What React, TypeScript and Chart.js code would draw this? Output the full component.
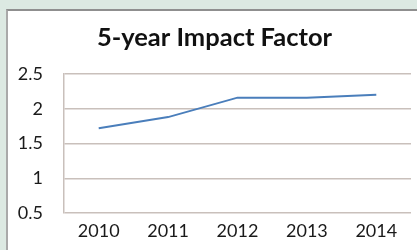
import React, { useEffect, useRef } from "react";
import { Chart, registerables } from "chart.js";

Chart.register(...registerables);

const years: string[] = ["2010", "2011", "2012", "2013", "2014"];
const impactFactor: number[] = [1.72, 1.88, 2.16, 2.16, 2.2];
const yTicks: number[] = [0.5, 1, 1.5, 2, 2.5];
const titleText = "5-year Impact Factor";

export default function App() {
  const ref = useRef<HTMLCanvasElement | null>(null);

  useEffect(() => {
    document.body.style.margin = "0";
    const ctx = ref.current;
    if (!ctx) return;
    const chart = new Chart(ctx, {
      type: "line",
      data: {
        labels: years,
        datasets: [
          {
            data: impactFactor,
            borderColor: "#4a7ebb",
            borderWidth: 2,
            pointRadius: 0,
            tension: 0,
            fill: false,
          },
        ],
      },
      options: {
        animation: false,
        responsive: false,
        maintainAspectRatio: false,
        layout: { padding: { left: 12, right: 0, top: 0, bottom: 0 } },
        plugins: {
          legend: { display: false },
          tooltip: { enabled: false },
          title: {
            display: true,
            text: titleText,
            color: "#111",
            font: { family: "Lato", size: 25.5, weight: "bold", lineHeight: 1.2 },
            padding: { top: 22.7, bottom: 20.7 },
          },
        },
        scales: {
          x: {
            type: "category",
            offset: true,
            grid: { display: false, drawTicks: false },
            border: { display: false },
            afterFit: (axis: any) => {
              axis.height = 37;
            },
            ticks: {
              color: "#1a1a1a",
              font: { family: "Lato", size: 18 },
              padding: 7,
              maxRotation: 0,
            },
          },
          y: {
            min: 0.5,
            max: 2.5,
            afterBuildTicks: (axis: any) => {
              axis.ticks = yTicks.map((v) => ({ value: v }));
            },
            afterFit: (axis: any) => {
              axis.width = 52;
            },
            grid: { color: "#c9c0bb", lineWidth: 1.5, drawTicks: false },
            border: { display: true, color: "#c9c0bb", width: 1.5 },
            ticks: {
              color: "#1a1a1a",
              font: { family: "Lato", size: 18 },
              padding: 21,
              callback: (v: any) => String(v),
            },
          },
          spacer: {
            type: "linear",
            position: "right",
            display: true,
            grid: { display: false, drawTicks: false },
            border: { display: false },
            ticks: { display: false },
            afterFit: (axis: any) => {
              axis.width = 6;
            },
          },
        },
      },
    });
    return () => chart.destroy();
  }, []);

  return (
    <div
      style={{
        position: "relative",
        width: 417,
        height: 250,
        background: "#dce9e2",
        overflow: "hidden",
      }}
    >
      <div
        style={{
          position: "absolute",
          left: 6,
          top: 9,
          width: 420,
          height: 250,
          background: "#ffffff",
          borderTop: "2px solid #8f8f8f",
          borderLeft: "2px solid #a9a9a9",
          boxSizing: "border-box",
        }}
      />
      <canvas
        ref={ref}
        width={417}
        height={250}
        style={{ position: "absolute", left: 0, top: 0 }}
      />
    </div>
  );
}
